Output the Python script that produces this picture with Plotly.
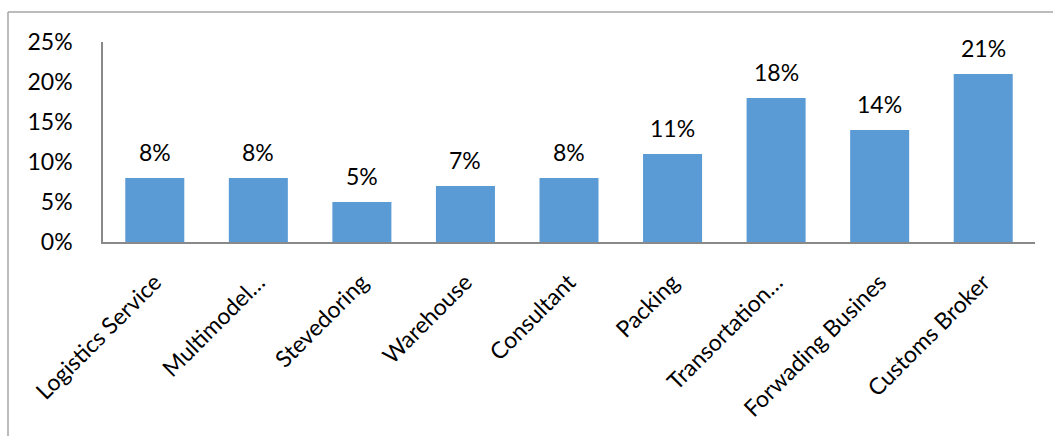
import plotly.graph_objects as go

categories = ["Logistics Service", "Multimodel…", "Stevedoring", "Warehouse", "Consultant",
              "Packing", "Transortation…", "Forwading Busines", "Customs Broker"]
values = [0.08, 0.08, 0.05, 0.07, 0.08, 0.11, 0.18, 0.14, 0.21]
tick_vals = [0, 0.05, 0.10, 0.15, 0.20, 0.25]
tick_text = ["0%", "5%", "10%", "15%", "20%", "25%"]

W, H = 1053, 436
L, R, T, B = 103, 18, 42, 194
pw, ph = W - L - R, H - T - B

font = dict(family="Lato, 'Open Sans', sans-serif", size=23, color="#000000")

fig = go.Figure()
fig.add_trace(go.Bar(x=categories, y=values, marker=dict(color="#5B9BD5", line=dict(width=0)),
                     width=0.57, hoverinfo="skip"))

for c, v in zip(categories, values):
    fig.add_annotation(x=c, y=v, text=f"{round(v*100)}%", showarrow=False,
                       yanchor="bottom", yshift=10, font=font)

fig.update_layout(
    width=W, height=H,
    margin=dict(l=L, r=R, t=T, b=B),
    paper_bgcolor="white", plot_bgcolor="white",
    showlegend=False,
    font=font,
    bargap=0.43,
    xaxis=dict(showline=True, linecolor="#898989", linewidth=1.5, showgrid=False, ticks="",
               tickangle=-45, tickfont=font, ticklabelstandoff=16, zeroline=False),
    yaxis=dict(range=[0, 0.25], tickvals=tick_vals, ticktext=tick_text, showline=True,
               linecolor="#898989", linewidth=1.5, showgrid=False, ticks="", zeroline=False,
               tickfont=font, ticklabelstandoff=24),
    shapes=[
        dict(type="line", xref="paper", yref="paper",
             x0=(8 - L) / pw, x1=(W + 10 - L) / pw, y0=1 + (T - 12) / ph, y1=1 + (T - 12) / ph,
             line=dict(color="#A6A6A6", width=1.5)),
        dict(type="line", xref="paper", yref="paper",
             x0=(8 - L) / pw, x1=(8 - L) / pw, y0=1 + (T - 12) / ph, y1=-(H + 10 - T - ph) / ph,
             line=dict(color="#A6A6A6", width=1.5)),
    ],
)

fig.write_html("out.html")
